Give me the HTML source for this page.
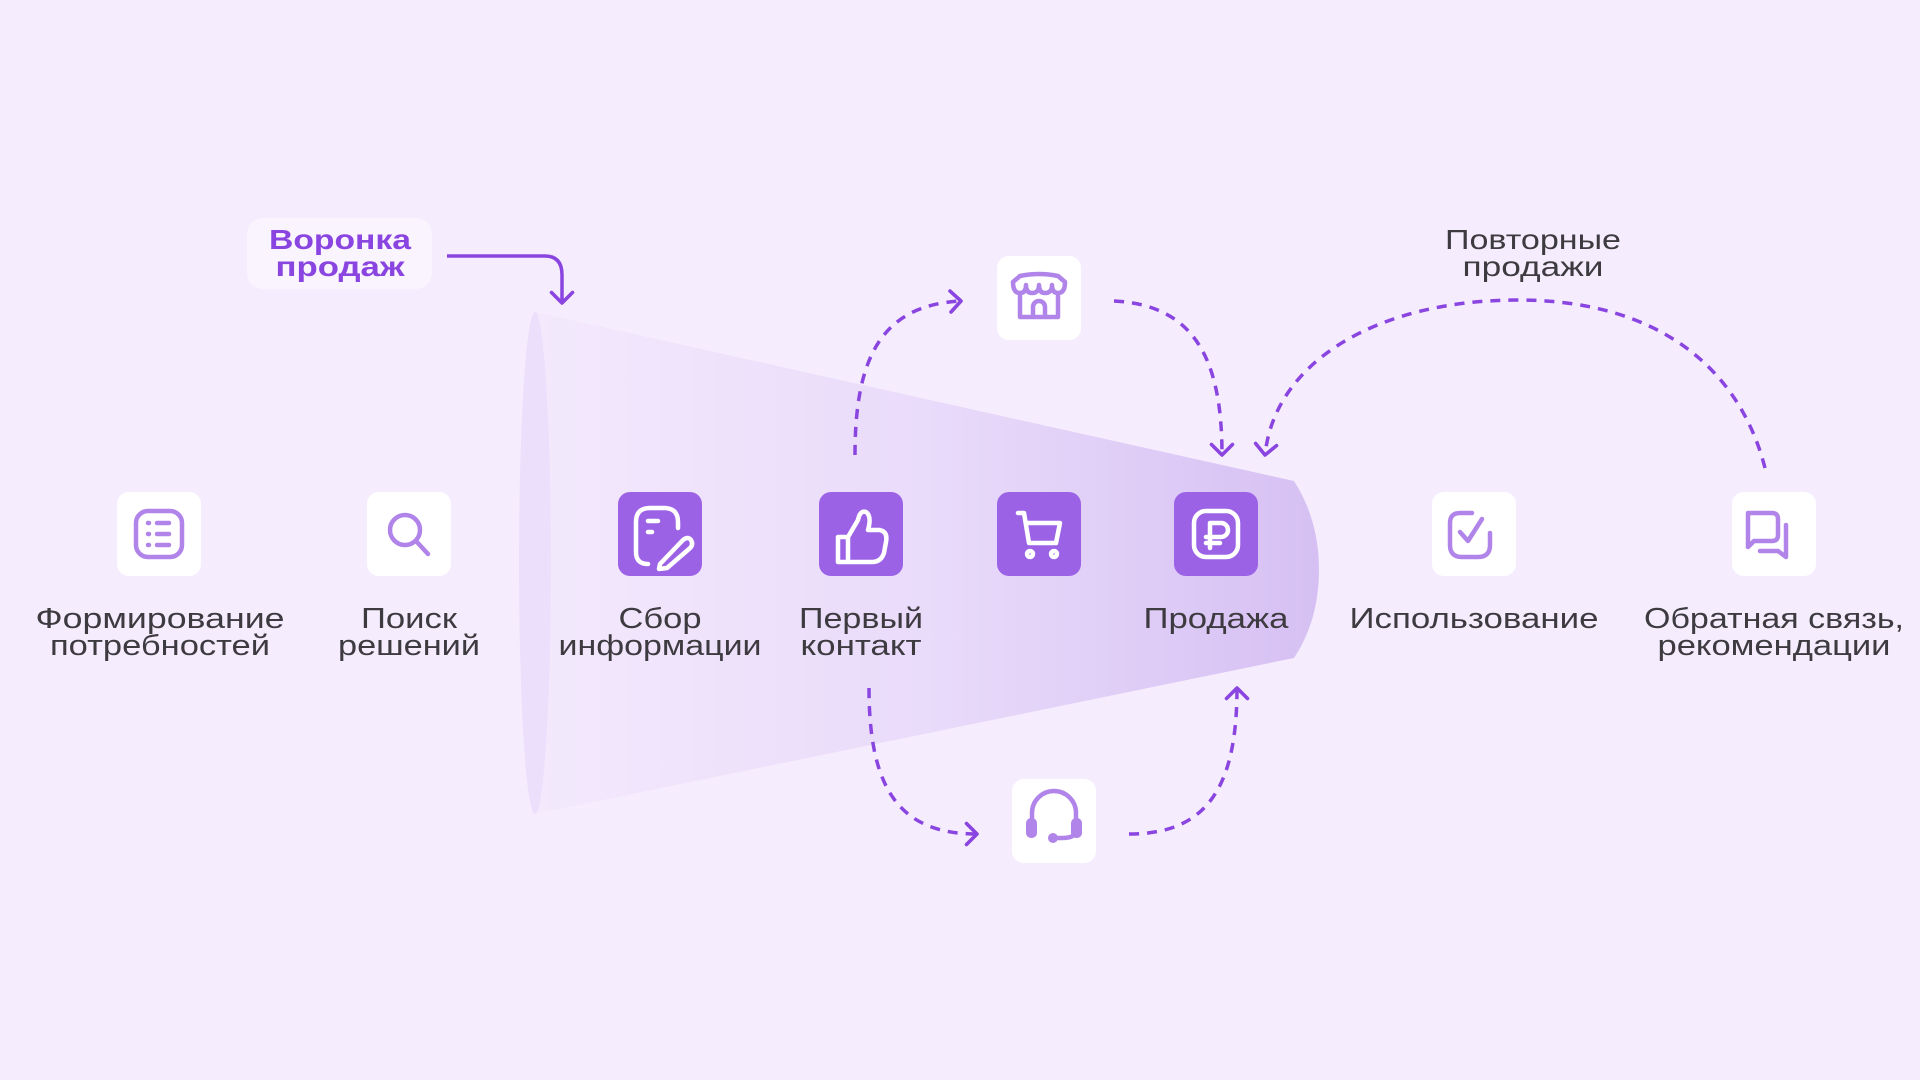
<!DOCTYPE html>
<html><head><meta charset="utf-8"><style>
html,body{margin:0;padding:0;width:1920px;height:1080px;overflow:hidden;background:#f5edfd;}
svg{display:block}
text{font-family:"Liberation Sans","DejaVu Sans",sans-serif;}
</style></head><body>
<svg width="1920" height="1080" viewBox="0 0 1920 1080" xmlns="http://www.w3.org/2000/svg">
<defs>
<linearGradient id="fg" x1="535" y1="0" x2="1320" y2="0" gradientUnits="userSpaceOnUse">
<stop offset="0" stop-color="#f3e9fc"/>
<stop offset="0.5" stop-color="#e9dbfa"/>
<stop offset="1" stop-color="#d6c0f3"/>
</linearGradient>
<marker id="ah" viewBox="0 0 20 20" refX="10" refY="10" markerWidth="30" markerHeight="30" markerUnits="userSpaceOnUse" orient="auto">
<path d="M3 3 L10 10 L3 17" fill="none" stroke="#8a45e0" stroke-width="2.4" stroke-linecap="round" stroke-linejoin="round"/>
</marker>
</defs>
<rect width="1920" height="1080" fill="#f5edfd"/>
<path d="M535 312 L1294 481 Q1319 520 1319 570 Q1319 620 1294 658 L535 814 Z" fill="url(#fg)"/>
<ellipse cx="535" cy="563" rx="16" ry="251" fill="#ecdffb"/>
<rect x="247" y="218" width="185" height="71" rx="16" fill="#f9f4fe"/>
<text x="340" y="249" text-anchor="middle" font-size="28" font-weight="bold" fill="#8a45e0" textLength="142" lengthAdjust="spacingAndGlyphs">Воронка</text>
<text x="340" y="276" text-anchor="middle" font-size="28" font-weight="bold" fill="#8a45e0" textLength="129" lengthAdjust="spacingAndGlyphs">продаж</text>
<path d="M447 256 L545 256 Q562 256 562 275 L562 303" fill="none" stroke="#8a45e0" stroke-width="3.5" marker-end="url(#ah)"/>
<g fill="none" stroke="#8a45e0" stroke-width="3.5" stroke-dasharray="10 8">
<path d="M855 455 C855 360 880 305 961 301" marker-end="url(#ah)"/>
<path d="M1114 301 C1195 305 1222 360 1222 455" marker-end="url(#ah)"/>
<path d="M1765 468 C1740 370 1660 300 1518 300 C1380 300 1275 360 1265 455" marker-end="url(#ah)"/>
<path d="M869 688 C869 790 900 834 977 834" marker-end="url(#ah)"/>
<path d="M1129 834 C1205 834 1237 790 1237 688" marker-end="url(#ah)"/>
</g>
<text x="1533" y="249" text-anchor="middle" font-size="28" fill="#3d3a40" textLength="176" lengthAdjust="spacingAndGlyphs">Повторные</text>
<text x="1533" y="276" text-anchor="middle" font-size="28" fill="#3d3a40" textLength="141" lengthAdjust="spacingAndGlyphs">продажи</text>

<g>
<rect x="117" y="492" width="84" height="84" rx="12" fill="#fff"/>
<rect x="367" y="492" width="84" height="84" rx="12" fill="#fff"/>
<rect x="618" y="492" width="84" height="84" rx="12" fill="#9b62e6"/>
<rect x="819" y="492" width="84" height="84" rx="12" fill="#9b62e6"/>
<rect x="997" y="492" width="84" height="84" rx="12" fill="#9b62e6"/>
<rect x="1174" y="492" width="84" height="84" rx="12" fill="#9b62e6"/>
<rect x="1432" y="492" width="84" height="84" rx="12" fill="#fff"/>
<rect x="1732" y="492" width="84" height="84" rx="12" fill="#fff"/>
<rect x="997" y="256" width="84" height="84" rx="12" fill="#fff"/>
<rect x="1012" y="779" width="84" height="84" rx="12" fill="#fff"/>
</g>
<g fill="none" stroke-linecap="round" stroke-linejoin="round" stroke-width="4.5">
<g stroke="#b184ea"><rect x="136" y="511" width="46" height="46" rx="12"/><path d="M148 523h1M157 523h12M148 534h1M157 534h12M148 545h1M157 545h12"/></g>
<g stroke="#b184ea"><circle cx="405" cy="530" r="15"/><path d="M416 541 L428 554"/></g>
<g stroke="#fff"><path d="M648 564 Q636 564 636 552 L636 522 Q636 508 650 508 L664 508 Q678 508 678 522 L678 528"/><path d="M648 521h10M648 532h4"/><path d="M660 564 L683 540 Q688 536 691 540 Q694 545 689 549 L667 568 L659 569Z"/></g>
<g stroke="#fff"><path d="M838 537h10v25h-10zM848 537 L858 520 Q860 510 866 512 Q872 516 868 530 L880 530 Q888 532 886 542 L884 553 Q881 562 872 562 L848 562"/></g>
<g stroke="#fff"><path d="M1018 513h6l5 30h27l4-20h-33"/><circle cx="1030" cy="554" r="3"/><circle cx="1054" cy="554" r="3"/></g>
<g stroke="#fff"><rect x="1194" y="511" width="44" height="46" rx="12"/><path d="M1210 548V523h11a7 7 0 0 1 0 14h-15M1206 543h14"/></g>
<g stroke="#b184ea"><path d="M1472 513h-12q-10 0-10 10v22q0 12 12 12h16q12 0 12-12v-12"/><path d="M1460 532 L1468 541 L1482 519"/></g>
<g stroke="#b184ea"><path d="M1748 513h24q6 0 6 6v16q0 6-6 6h-18l-6 6z"/><path d="M1786 525v32l-8-6h-18"/></g>
<g stroke="#b184ea"><path d="M1013 282 L1020 276 Q1039 272 1058 276 L1065 282 Q1065 293 1058 293 Q1052 293 1052 285 Q1052 293 1045 293 Q1039 293 1039 285 Q1039 293 1032 293 Q1026 293 1026 285 Q1026 293 1020 293 Q1013 293 1013 282Z"/><path d="M1020 296v21h38v-21M1033 317v-10a6 6 0 0 1 12 0v10" /></g>
<g stroke="#b184ea"><path d="M1032 825v-12a22 22 0 0 1 44 0v12"/><path d="M1076 830q0 8-14 8h-8"/></g>
<g fill="#b184ea"><rect x="1026" y="818" width="11" height="20" rx="5"/><rect x="1071" y="818" width="11" height="20" rx="5"/><circle cx="1053" cy="838" r="5"/></g>
</g>

<g font-size="29" fill="#3d3a40" text-anchor="middle" lengthAdjust="spacingAndGlyphs">
<text x="160" y="628" textLength="249" lengthAdjust="spacingAndGlyphs">Формирование</text><text x="160" y="655" textLength="220" lengthAdjust="spacingAndGlyphs">потребностей</text>
<text x="409" y="628" textLength="96" lengthAdjust="spacingAndGlyphs">Поиск</text><text x="409" y="655" textLength="142" lengthAdjust="spacingAndGlyphs">решений</text>
<text x="660" y="628" textLength="83" lengthAdjust="spacingAndGlyphs">Сбор</text><text x="660" y="655" textLength="203" lengthAdjust="spacingAndGlyphs">информации</text>
<text x="861" y="628" textLength="124" lengthAdjust="spacingAndGlyphs">Первый</text><text x="861" y="655" textLength="121" lengthAdjust="spacingAndGlyphs">контакт</text>
<text x="1216" y="628" textLength="145" lengthAdjust="spacingAndGlyphs">Продажа</text>
<text x="1474" y="628" textLength="249" lengthAdjust="spacingAndGlyphs">Использование</text>
<text x="1774" y="628" textLength="260" lengthAdjust="spacingAndGlyphs">Обратная связь,</text><text x="1774" y="655" textLength="233" lengthAdjust="spacingAndGlyphs">рекомендации</text>
</g>
</svg>
</body></html>
